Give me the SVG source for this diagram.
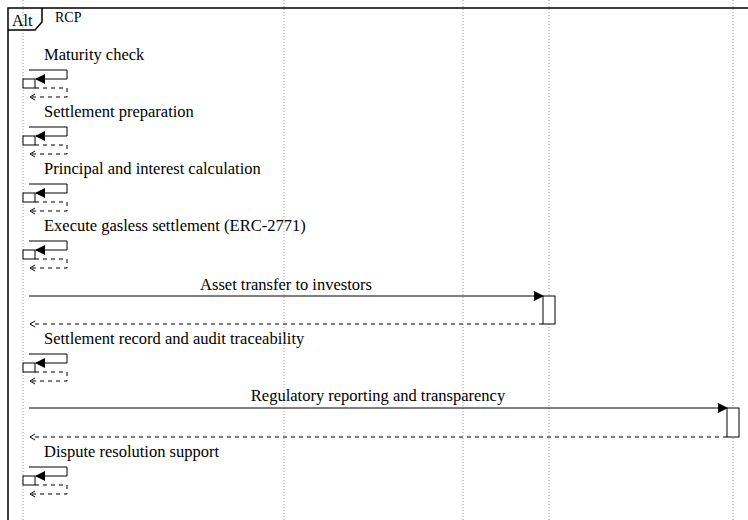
<svg xmlns="http://www.w3.org/2000/svg" width="748" height="520" viewBox="0 0 748 520" font-family="'Liberation Serif', 'Times New Roman', serif">
  <style>
    text { font-family: "Liberation Serif", "Times New Roman", serif; fill: #000; }
    .msg { font-size: 16.5px; }
    .lifeline { stroke: #999; stroke-width: 1; stroke-dasharray: 1 2; fill: none; }
    .frame { stroke: #000; stroke-width: 1.5; fill: none; }
    .call { stroke: #000; stroke-width: 1; fill: none; }
    .ret { stroke: #000; stroke-width: 1; fill: none; stroke-dasharray: 4 4; }
    .act { stroke: #000; stroke-width: 1; fill: #fff; }
  </style>
  <defs>
    <marker id="solid" markerWidth="10" markerHeight="10" refX="9" refY="5" orient="auto" markerUnits="userSpaceOnUse">
      <path d="M0,0 L10,5 L0,10 z" fill="#000"/>
    </marker>
    <marker id="open" markerWidth="8" markerHeight="8" refX="5" refY="4" orient="auto" markerUnits="userSpaceOnUse">
      <path d="M0,1 L5,4 L0,7" fill="none" stroke="#000" stroke-width="1"/>
    </marker>
    <!-- self message loop, origin at lifeline x=23, baseline of its label -->
    <g id="selfLoop">
      <path class="call" d="M29,10 H67 V19 H36" marker-end="url(#solid)"/>
      <rect class="act" x="23" y="19" width="12" height="9"/>
      <path class="ret" d="M35,28 H67 V37 H30"/>
      <path d="M35,34 L30,37 L35,40" fill="none" stroke="#000" stroke-width="1"/>
    </g>
  </defs>

  <rect width="748" height="520" fill="#fff"/>

  <!-- lifelines -->
  <g id="lifelines">
    <line class="lifeline" x1="23" y1="0" x2="23" y2="520"/>
    <line class="lifeline" x1="284" y1="0" x2="284" y2="520"/>
    <line class="lifeline" x1="463" y1="0" x2="463" y2="520"/>
    <line class="lifeline" x1="549" y1="0" x2="549" y2="520"/>
    <line class="lifeline" x1="733" y1="0" x2="733" y2="520"/>
  </g>

  <!-- combined fragment -->
  <g id="alt-frame">
    <path class="frame" d="M8,520 V8 H748"/>
    <path class="frame" d="M8,30 H35 L42,22 V8"/>
    <text x="12" y="26" font-size="16">Alt</text>
    <text x="55" y="22" font-size="14">RCP</text>
  </g>

  <g id="connectors">
    <g id="msg-maturity">
      <text class="msg" x="44" y="60">Maturity check</text>
      <use href="#selfLoop" y="60"/>
    </g>
    <g id="msg-prep">
      <text class="msg" x="44" y="117">Settlement preparation</text>
      <use href="#selfLoop" y="117"/>
    </g>
    <g id="msg-calc">
      <text class="msg" x="44" y="174">Principal and interest calculation</text>
      <use href="#selfLoop" y="174"/>
    </g>
    <g id="msg-exec">
      <text class="msg" x="44" y="231">Execute gasless settlement (ERC-2771)</text>
      <use href="#selfLoop" y="231"/>
    </g>

    <g id="msg-transfer">
      <text class="msg" x="286" y="290" text-anchor="middle">Asset transfer to investors</text>
      <line class="call" x1="29" y1="296" x2="543" y2="296" marker-end="url(#solid)"/>
      <rect class="act" x="543" y="296" width="12" height="28"/>
      <line class="ret" x1="543" y1="324" x2="30" y2="324" marker-end="url(#open)"/>
    </g>

    <g id="msg-record">
      <text class="msg" x="44" y="344">Settlement record and audit traceability</text>
      <use href="#selfLoop" y="344"/>
    </g>

    <g id="msg-reporting">
      <text class="msg" x="378" y="401" text-anchor="middle">Regulatory reporting and transparency</text>
      <line class="call" x1="29" y1="408" x2="727" y2="408" marker-end="url(#solid)"/>
      <rect class="act" x="727" y="408" width="12" height="29"/>
      <line class="ret" x1="727" y1="437" x2="30" y2="437" marker-end="url(#open)"/>
    </g>

    <g id="msg-dispute">
      <text class="msg" x="44" y="457">Dispute resolution support</text>
      <use href="#selfLoop" y="457"/>
    </g>
  </g>
</svg>
